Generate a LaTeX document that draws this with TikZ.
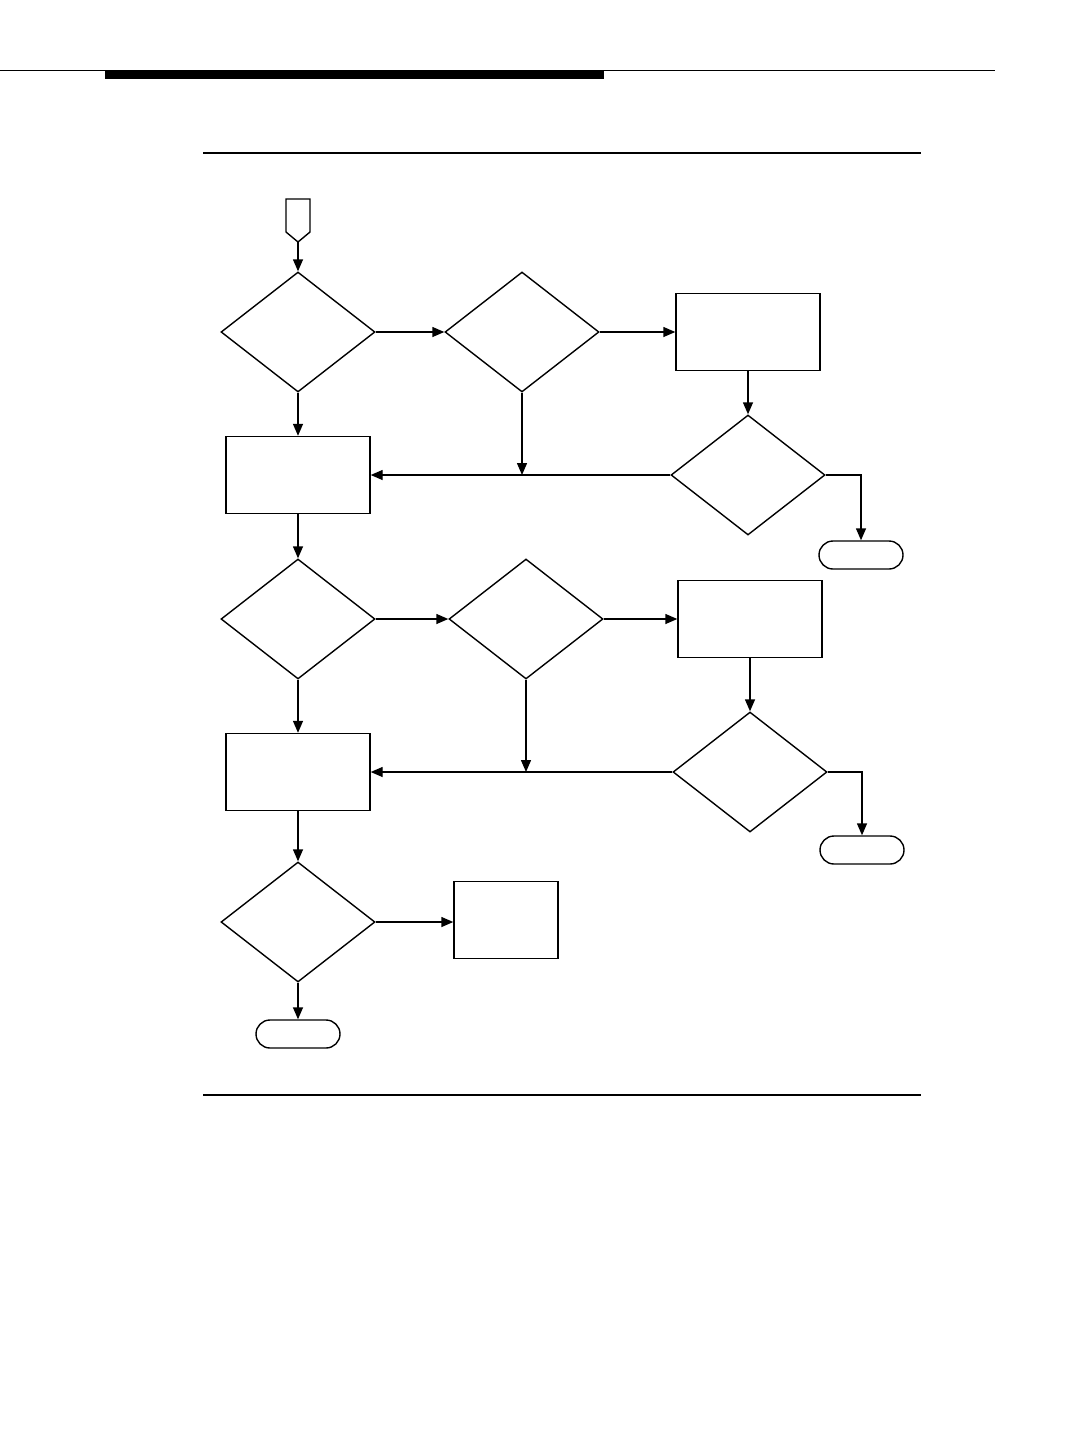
\documentclass[tikz,border=0pt]{standalone}
\usepackage{tikz}
\usetikzlibrary{arrows.meta,shapes.geometric}

\begin{document}
\begin{tikzpicture}[
  x=1pt, y=-1pt,
  line width=1.4pt,
  dec/.style={draw, diamond, inner sep=0pt, minimum width=154pt, minimum height=120pt},
  box/.style={draw, rectangle, inner sep=0pt, minimum width=144pt, minimum height=77pt},
  term/.style={draw, rectangle, rounded corners=14pt, inner sep=0pt, minimum width=84pt, minimum height=28pt},
  arr/.style={-{Triangle[length=12pt,width=10pt]}}
]
  \useasboundingbox (0,0) rectangle (1066,1440);
  % page rules
  \draw[line width=1.2pt] (0,70.5) -- (995,70.5);
  \fill (105,70) rectangle (604,79);
  \draw[line width=2pt] (203,153) -- (921,153);
  \draw[line width=1.5pt] (203,1095) -- (921,1095);
  % start
  \draw (286,199) -- (310,199) -- (310,232) -- (298,242) -- (286,232) -- cycle;
  \coordinate (start) at (298,242);
  % first block
  \node[dec] (d1) at (298,332) {};
  \node[dec] (d2) at (522,332) {};
  \node[box] (b1) at (748,332) {};
  \node[dec] (d3) at (748,475) {};
  \node[box] (b2) at (298,475) {};
  \node[term] (t1) at (861,555) {};
  \coordinate (j1) at (522,475);
  % second block
  \node[dec] (d4) at (298,619) {};
  \node[dec] (d5) at (526,619) {};
  \node[box] (b3) at (750,619) {};
  \node[dec] (d6) at (750,772) {};
  \node[box] (b4) at (298,772) {};
  \node[term] (t2) at (862,850) {};
  \coordinate (j2) at (526,772);
  % last block
  \node[dec] (d7) at (298,922) {};
  \node[box, minimum width=104pt] (b5) at (506,920) {};
  \node[term] (t3) at (298,1034) {};

  \draw[arr] (start) -- (d1.north);
  \draw[arr] (d1.east) -- (d2.west);
  \draw[arr] (d2.east) -- (b1.west);
  \draw[arr] (b1.south) -- (d3.north);
  \draw[arr] (d3.west) -- (b2.east);
  \draw[arr] (d2.south) -- (j1);
  \draw[arr] (d3.east) -| (t1.north);
  \draw[arr] (d1.south) -- (b2.north);
  \draw[arr] (b2.south) -- (d4.north);

  \draw[arr] (d4.east) -- (d5.west);
  \draw[arr] (d5.east) -- (b3.west);
  \draw[arr] (b3.south) -- (d6.north);
  \draw[arr] (d6.west) -- (b4.east);
  \draw[arr] (d5.south) -- (j2);
  \draw[arr] (d6.east) -| (t2.north);
  \draw[arr] (d4.south) -- (b4.north);
  \draw[arr] (b4.south) -- (d7.north);

  \draw[arr] (d7.east) -- (d7.east -| b5.west);
  \draw[arr] (d7.south) -- (t3.north);
\end{tikzpicture}
\end{document}
